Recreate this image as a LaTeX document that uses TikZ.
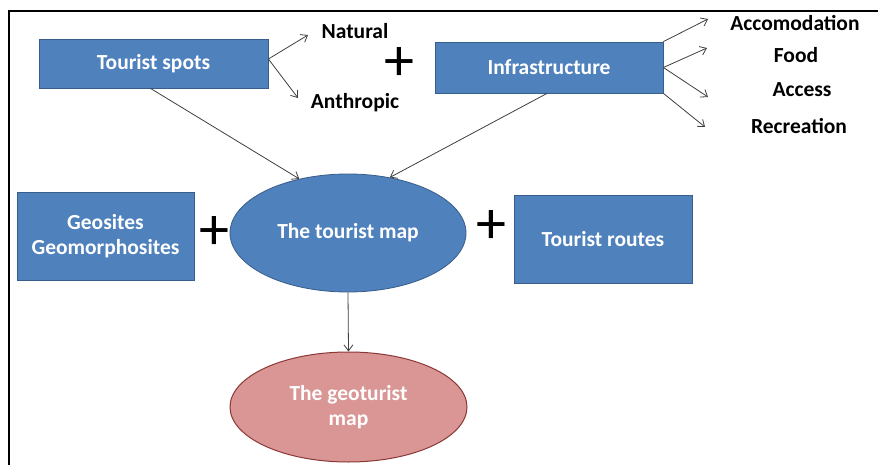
\documentclass[tikz,border=0pt]{standalone}
\usepackage{fontspec}
\setmainfont{Carlito}
\usetikzlibrary{shapes.geometric,arrows.meta,calc}
\definecolor{boxblue}{HTML}{4F81BD}
\definecolor{boxline}{HTML}{385D8A}
\definecolor{pinkfill}{HTML}{D99694}
\definecolor{pinkline}{HTML}{8C3836}
\definecolor{arrgray}{HTML}{404040}
\begin{document}
\begin{tikzpicture}[x=1pt,y=-1pt,
  bluebox/.style={draw=boxline,line width=0.8pt,fill=boxblue,text=white,font=\bfseries\fontsize{21.5}{25}\selectfont,align=center,inner sep=0pt,rectangle},
  blueell/.style={ellipse,draw=boxline,line width=0.8pt,fill=boxblue,text=white,font=\bfseries\fontsize{21.5}{25}\selectfont,align=center,inner sep=0pt},
  pinkell/.style={ellipse,draw=pinkline,line width=1pt,fill=pinkfill,text=white,font=\bfseries\fontsize{21.5}{25}\selectfont,align=center,inner sep=0pt},
  lbl/.style={text=black,font=\bfseries\fontsize{21.5}{25}\selectfont,inner sep=0pt},
  plus/.style={text=black,font=\fontsize{60}{60}\selectfont,inner sep=0pt},
  arr/.style={draw=arrgray,line width=0.8pt,-{Straight Barb[length=6pt,width=9pt]}}]
\useasboundingbox (0,0) rectangle (878,465);
\fill[white] (0,0) rectangle (878,465);
\draw[line width=2.5pt,black] (878,11) -- (9,11) -- (9,465);

\node[bluebox,minimum width=229pt,minimum height=49pt] (ts) at (153.5,63.5) {Tourist spots};
\node[bluebox,minimum width=228pt,minimum height=51pt] (inf) at (549,67.5) {Infrastructure};
\node[bluebox,minimum width=177pt,minimum height=88pt] (geo) at (105.5,236) {Geosites\\Geomorphosites};
\node[bluebox,minimum width=178pt,minimum height=88pt] (tr) at (603,239) {Tourist routes};
\node[blueell,minimum width=236pt,minimum height=118pt] (tm) at (348,233) {The tourist map};
\node[pinkell,minimum width=237pt,minimum height=110pt] (gm) at (348.5,407) {The geoturist\\map};

\node[lbl] (nat) at (355,31) {Natural};
\node[lbl] (anth) at (355,103) {Anthropic};
\node[lbl] (acc) at (795,23) {Accomodation};
\node[lbl] (food) at (796,55) {Food};
\node[lbl] (access) at (802,90) {Access};
\node[lbl] (rec) at (799,126) {Recreation};

\node[plus] (p1) at (399,64) {+};
\node[plus] (p2) at (214,233) {+};
\node[plus] (p3) at (491,227) {+};

\coordinate (natT) at (308,35);
\coordinate (anthT) at (298,98);
\coordinate (accT) at (708,19);
\coordinate (foodT) at (707,48);
\coordinate (accessT) at (708,97);
\coordinate (recT) at (705,127);

\draw[arr] ($(ts.east)+(0,-4.5)$) -- (natT);
\draw[arr] ($(ts.east)+(0,-4.5)$) -- (anthT);
\draw[arr] (inf.north east) -- (accT);
\draw[arr] (inf.east) -- (foodT);
\draw[arr] (inf.east) -- (accessT);
\draw[arr] (inf.south east) -- (recT);
\draw[arr] ($(ts.south)+(-3,0)$) -- (tm.132);
\draw[arr] ($(inf.south)+(-2,0)$) -- (tm.53);
\draw[arr] (tm.south) -- (gm.north);
\end{tikzpicture}
\end{document}
